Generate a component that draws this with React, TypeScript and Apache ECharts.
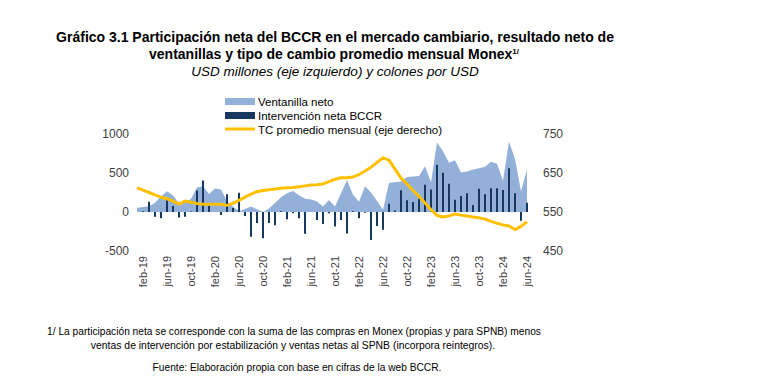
import React, { useEffect, useRef } from "react";
import * as echarts from "echarts";

const monthNames = ["ene", "feb", "mar", "abr", "may", "jun", "jul", "ago", "sep", "oct", "nov", "dic"];
const categories: string[] = [];
for (let y = 2019; y <= 2024; y++) {
  for (let m = 0; m < 12; m++) {
    if (y === 2024 && m > 5) break;
    categories.push(`${monthNames[m]}-${String(y).slice(2)}`);
  }
}

const ventanillaNeto = [
  55, 65, 75, 120, 200, 265, 210, 110, 120, 170,
  315, 330, 230, 300, 290, 140, 70, 10, 40, 70,
  35, 0, 45, 115, 190, 240, 270, 215, 170, 160,
  135, 70, 155, 70, 240, 410, 220, 130, 330, 250,
  140, 30, 375, 380, 390, 450, 455, 460, 585, 380,
  890, 780, 630, 665, 505, 520, 545, 560, 580, 645,
  620, 400, 905, 680, 265, 545,
];

const intervencionBCCR = [
  0, 10, 130, -60, -80, 150, 77, -70, -60, 5,
  275, 405, 77, 0, -40, 226, 50, 248, -50, -316,
  -140, -338, -140, -170, 10, -94, -15, -81, -280, 0,
  -103, -154, -15, -185, -103, -275, 10, -81, -10, -360,
  -180, -228, 105, 20, 278, 150, 128, 170, 350, 288,
  607, 504, 363, 158, 205, 239, 90, 297, 228, 303,
  303, 282, 560, 239, -113, 120,
];

const tcPromedio = [
  612, 606, 600, 594, 588, 584, 578, 570, 578, 575,
  572, 570, 570, 570, 570, 567, 572, 580, 588, 596,
  602, 605, 607, 609, 611, 612, 613, 615, 617, 619,
  620, 622, 628, 634, 638, 638, 640, 646, 655, 665,
  677, 689, 683, 660, 637, 622, 605, 590, 573, 556,
  541, 537, 540, 545, 542, 540, 537, 535, 532, 526,
  521, 517, 514, 505, 513, 525,
];

const leftTicks = { min: -500, max: 1000, interval: 500 };
const rightTicks = { min: 450, max: 750, interval: 100 };

const seriesNames = ["Ventanilla neto", "Intervención neta BCCR", "TC promedio mensual (eje derecho)"];
const titleLines = [
  "Gráfico 3.1 Participación neta del BCCR en el mercado cambiario, resultado neto de",
  "ventanillas y tipo de cambio promedio mensual Monex",
];
const titleSup = "1/";
const subtitle = "USD millones (eje izquierdo) y colones por USD";
const footnotes = [
  "1/ La participación neta se corresponde con la suma de las compras en Monex (propias y para SPNB) menos",
  "ventas de intervención por estabilización y ventas netas al SPNB (incorpora reintegros).",
];
const source = "Fuente: Elaboración propia con base en cifras de la web BCCR.";

const COL_AREA = "#93B1D8";
const COL_BAR = "#17375E";
const COL_LINE = "#FFC000";
const FONT = "'Liberation Sans', Arial, sans-serif";

export default function App() {
  const ref = useRef<HTMLDivElement>(null);
  useEffect(() => {
    if (!ref.current) return;
    const chart = echarts.init(ref.current, undefined, { renderer: "svg" });
    const txt = (x: number, y: number, text: string, font: string, align = "center") => ({
      type: "text",
      x,
      y,
      silent: true,
      style: { text, font, fill: "#000", align, verticalAlign: "middle" },
    });
    chart.setOption({
      animation: false,
      backgroundColor: "#fff",
      textStyle: { fontFamily: FONT },
      grid: { left: 137, top: 134, width: 390, height: 117, containLabel: false },
      xAxis: {
        type: "category",
        data: categories,
        boundaryGap: false,
        axisLine: { show: false },
        axisTick: { show: false },
        splitLine: { show: false },
        axisLabel: {
          rotate: 90,
          interval: (idx: number) => idx % 4 === 1,
          fontSize: 11,
          color: "#404040",
          margin: 5,
          fontFamily: FONT,
        },
      },
      yAxis: [
        {
          type: "value",
          ...leftTicks,
          axisLine: { show: false },
          axisTick: { show: false },
          splitLine: { show: false },
          axisLabel: { fontSize: 12, color: "#404040", margin: 8, fontFamily: FONT, formatter: (v: number) => String(v) },
        },
        {
          type: "value",
          ...rightTicks,
          position: "right",
          axisLine: { show: false },
          axisTick: { show: false },
          splitLine: { show: false },
          axisLabel: { fontSize: 12, color: "#404040", margin: 16, fontFamily: FONT, formatter: (v: number) => String(v) },
        },
      ],
      series: [
        {
          name: seriesNames[0],
          type: "line",
          data: ventanillaNeto,
          symbol: "none",
          lineStyle: { width: 0 },
          areaStyle: { color: COL_AREA, opacity: 1 },
          itemStyle: { color: COL_AREA },
          z: 1,
        },
        {
          name: seriesNames[1],
          type: "bar",
          data: intervencionBCCR,
          barWidth: 2,
          itemStyle: { color: COL_BAR },
          z: 2,
        },
        {
          name: seriesNames[2],
          type: "line",
          yAxisIndex: 1,
          data: tcPromedio,
          symbol: "none",
          smooth: false,
          lineStyle: { width: 3, color: COL_LINE },
          itemStyle: { color: COL_LINE },
          z: 3,
        },
      ],
      graphic: [
        txt(335, 37, titleLines[0], `bold 14px ${FONT}`),
        {
          type: "text",
          x: 334,
          y: 54,
          silent: true,
          style: {
            text: `${titleLines[1]}{sup|${titleSup}}`,
            font: `bold 14px ${FONT}`,
            fill: "#000",
            align: "center",
            verticalAlign: "middle",
            rich: { sup: { fontSize: 8, fontWeight: "bold", fontFamily: FONT, verticalAlign: "top", padding: [0, 0, 6, 0] } },
          },
        },
        txt(335, 71, subtitle, `italic 13.5px ${FONT}`),
        { type: "rect", silent: true, shape: { x: 225, y: 98, width: 30, height: 7 }, style: { fill: COL_AREA } },
        txt(258, 101.5, seriesNames[0], `11.5px ${FONT}`, "left"),
        { type: "rect", silent: true, shape: { x: 225, y: 112, width: 30, height: 7 }, style: { fill: COL_BAR } },
        txt(258, 115.5, seriesNames[1], `11.5px ${FONT}`, "left"),
        { type: "rect", silent: true, shape: { x: 225, y: 127.5, width: 30, height: 3 }, style: { fill: COL_LINE } },
        txt(258, 129.5, seriesNames[2], `11.5px ${FONT}`, "left"),
        txt(294, 331, footnotes[0], `10.2px ${FONT}`),
        txt(293, 345, footnotes[1], `10.4px ${FONT}`),
        txt(297, 367, source, `10.2px ${FONT}`),
      ],
    });
    return () => chart.dispose();
  }, []);
  return (
    <div
      ref={ref}
      style={{ position: "absolute", left: 0, top: 0, width: 771, height: 384, background: "#fff" }}
    />
  );
}
